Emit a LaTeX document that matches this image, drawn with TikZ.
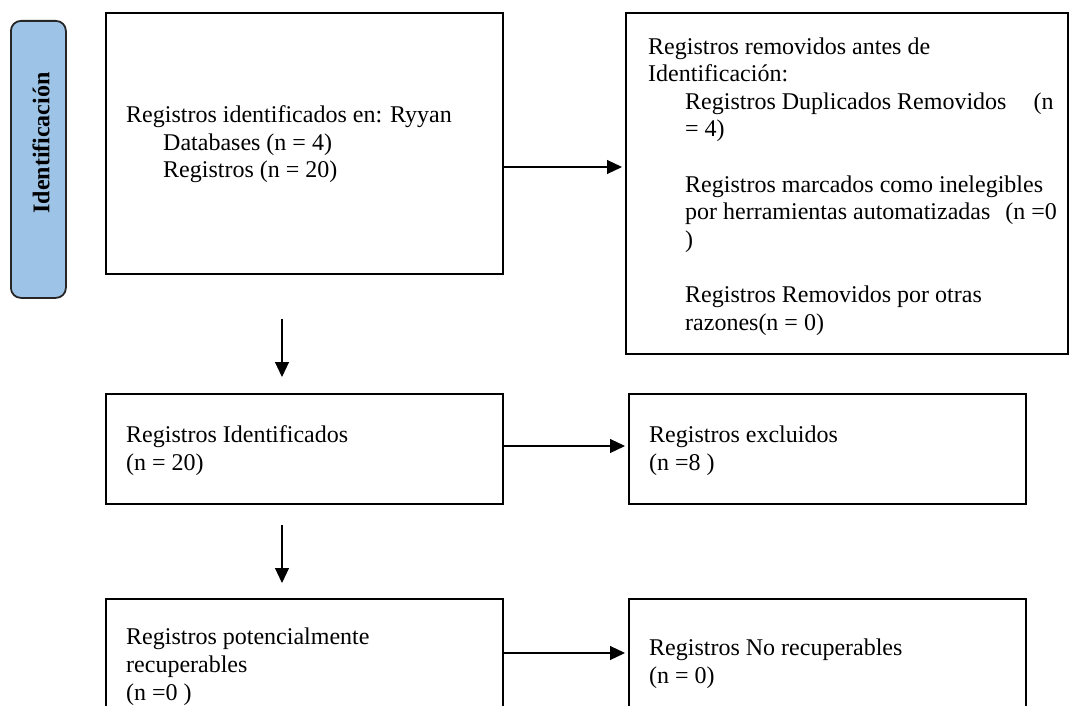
\documentclass[tikz,border=0pt]{standalone}
\usepackage{fontspec}
\setmainfont{Liberation Serif}
\usetikzlibrary{arrows.meta,positioning}
\definecolor{azul}{HTML}{9DC3E6}
\begin{document}
\begin{tikzpicture}[x=1pt,y=-1pt,
    caja/.style={draw,line width=1.6pt,anchor=north west,inner sep=0pt},
    texto/.style={anchor=base west,align=left,inner sep=0pt,font=\fontsize{24}{27.6}\selectfont},
    flecha/.style={line width=1.1pt,-{Triangle[length=15pt,width=14pt]}},
    etapa/.style={draw=black!85,line width=1.8pt,rounded corners=10pt,fill=azul,anchor=north west,inner sep=0pt}]
    \useasboundingbox (0,0) rectangle (1069,706);
    \clip (0,0) rectangle (1069,706);
    %Etapa
    \node[etapa,minimum width=55pt,minimum height=277pt] (eta) at (10,20) {};
    \node[font=\bfseries\fontsize{24}{27.6}\selectfont,rotate=90,inner sep=0pt] (t-eta) at (41,143) {Identificación};
    %Cajas izquierda
    \node[caja,minimum width=397pt,minimum height=261pt] (reg) at (105,12)  {};
    \node[caja,minimum width=397pt,minimum height=110pt] (ide) at (105,393) {};
    \node[caja,minimum width=397pt,minimum height=140pt] (pot) at (105,598) {};
    %Cajas derecha
    \node[caja,minimum width=442pt,minimum height=341pt] (rem) at (625,12)  {};
    \node[caja,minimum width=397pt,minimum height=110pt] (exc) at (628,393) {};
    \node[caja,minimum width=397pt,minimum height=140pt] (nor) at (628,598) {};
    %Textos (base = ultima linea)
    \node[texto] (t-reg) at (126,178) {Registros identificados en: Ryyan\\
        \hspace*{37pt}Databases (n = 4)\\
        \hspace*{37pt}Registros (n = 20)};
    \node[texto] (t-rem) at (648,330) {Registros removidos antes de\\
        Identificación:\\
        \hspace*{37pt}Registros Duplicados Removidos\hspace{21pt} (n\\
        \hspace*{37pt}= 4)\\[27.6pt]
        \hspace*{37pt}Registros marcados como inelegibles\\
        \hspace*{37pt}por herramientas automatizadas\hspace{9pt} (n =0\\
        \hspace*{37pt})\\[27.6pt]
        \hspace*{37pt}Registros Removidos por otras\\
        \hspace*{37pt}razones(n = 0)};
    \node[texto] (t-ide) at (126,470) {Registros Identificados\\(n = 20)};
    \node[texto] (t-exc) at (649,470) {Registros excluidos\\(n =8 )};
    \node[texto] (t-pot) at (126,700) {Registros potencialmente\\recuperables\\(n =0 )};
    \node[texto] (t-nor) at (649,683) {Registros No recuperables\\(n = 0)};
    %Flechas
    \coordinate (b1) at (282,319);
    \coordinate (b2) at (282,377);
    \coordinate (b3) at (282,525);
    \coordinate (b4) at (282,583);
    \draw[flecha] (b1) -- (b2);
    \draw[flecha] (b3) -- (b4);
    \draw[flecha,shorten >=3pt] (reg.east |- 0,167) -- (rem.west |- 0,167);
    \draw[flecha,shorten >=3pt] (ide.east |- 0,446) -- (exc.west |- 0,446);
    \draw[flecha,shorten >=3pt] (pot.east |- 0,653) -- (nor.west |- 0,653);
\end{tikzpicture}
\end{document}
